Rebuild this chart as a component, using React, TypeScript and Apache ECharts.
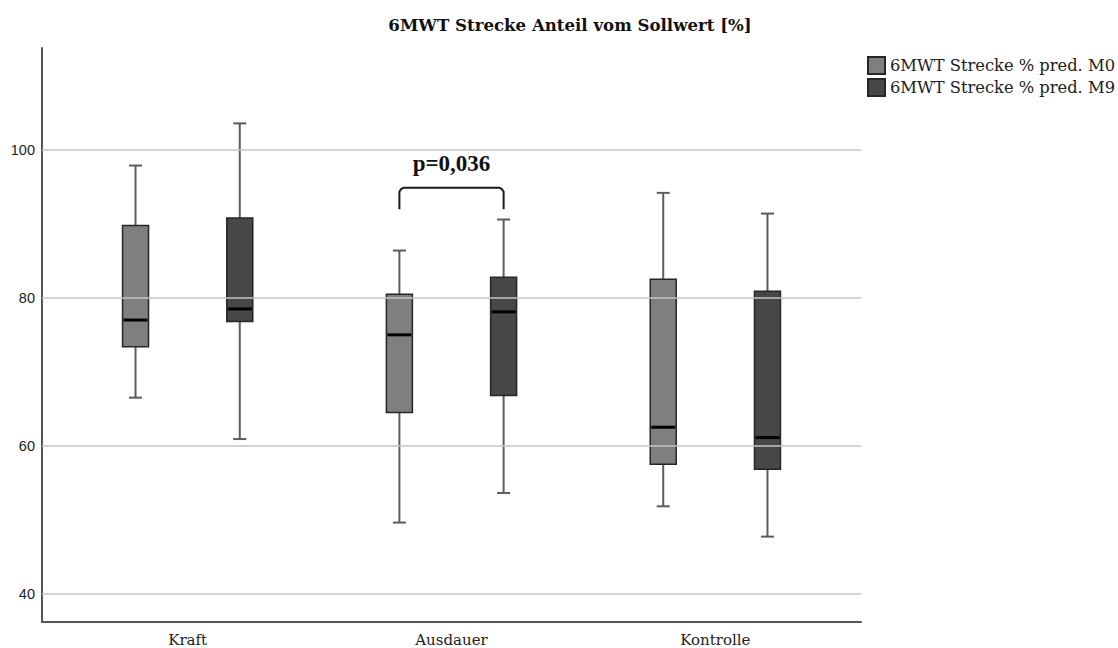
import React, { useEffect, useRef } from "react";
import * as echarts from "echarts";

const TITLE = "6MWT Strecke Anteil vom Sollwert [%]";
const groups = ["Kraft", "Ausdauer", "Kontrolle"];
const seriesNames = ["6MWT Strecke % pred. M0", "6MWT Strecke % pred. M9"];
// [min, q1, median, q3, max] per group
const m0Values = [
  [66.5, 73.4, 77.0, 89.8, 97.9],
  [49.6, 64.5, 75.0, 80.5, 86.4],
  [51.8, 57.5, 62.5, 82.5, 94.2],
];
const m9Values = [
  [60.9, 76.8, 78.5, 90.8, 103.6],
  [53.6, 66.8, 78.1, 82.8, 90.6],
  [47.7, 56.8, 61.1, 80.9, 91.4],
];
const yTicks = [40, 60, 80, 100];
const pLabel = "p=0,036";
// bracket: group index, top value, end value
const bracket = { group: 2, top: 94.9, end: 92.0 };

const OFFSET = 0.1975;
const BOX_HALF = 13;
const CAP_HALF = 6.5;

function boxRenderer(fill: string) {
  return (params: any, api: any) => {
    const x = api.value(0);
    const lo = api.coord([x, api.value(1)]);
    const q1 = api.coord([x, api.value(2)]);
    const med = api.coord([x, api.value(3)]);
    const q3 = api.coord([x, api.value(4)]);
    const hi = api.coord([x, api.value(5)]);
    const cx = lo[0];
    const wStyle = { stroke: "#5c5c5c", lineWidth: 2 };
    return {
      type: "group",
      children: [
        { type: "line", shape: { x1: cx, y1: hi[1], x2: cx, y2: q3[1] }, style: wStyle },
        { type: "line", shape: { x1: cx, y1: q1[1], x2: cx, y2: lo[1] }, style: wStyle },
        { type: "line", shape: { x1: cx - CAP_HALF, y1: hi[1], x2: cx + CAP_HALF, y2: hi[1] }, style: wStyle },
        { type: "line", shape: { x1: cx - CAP_HALF, y1: lo[1], x2: cx + CAP_HALF, y2: lo[1] }, style: wStyle },
        {
          type: "rect",
          shape: { x: cx - BOX_HALF, y: q3[1], width: BOX_HALF * 2, height: q1[1] - q3[1] },
          style: { fill, stroke: "#262626", lineWidth: 1.5 },
        },
        {
          type: "line",
          shape: { x1: cx - BOX_HALF + 1, y1: med[1], x2: cx + BOX_HALF - 1, y2: med[1] },
          style: { stroke: "#000", lineWidth: 3 },
        },
      ],
    };
  };
}

export default function App() {
  const ref = useRef<HTMLDivElement>(null);
  useEffect(() => {
    if (!ref.current) return;
    const chart = echarts.init(ref.current, null, { renderer: "svg" });
    const colors = ["#7f7f7f", "#474747"];
    const mk = (vals: number[][], off: number) =>
      vals.map((v, i) => [i + 1 + off, ...v]);
    chart.setOption({
      animation: false,
      backgroundColor: "#fff",
      graphic: [
        {
          type: "text",
          x: 570,
          y: 25,
          style: {
            text: TITLE,
            fill: "#111",
            font: "bold 16.6px 'DejaVu Serif'",
            textAlign: "center",
            textVerticalAlign: "middle",
          },
        },
      ],
      legend: {
        data: seriesNames,
        orient: "vertical",
        left: 862,
        top: 51,
        itemWidth: 17,
        itemHeight: 17,
        itemGap: 3,
        itemTextGap: 5,
        icon: "rect",
        selectedMode: false,
        textStyle: { fontFamily: "DejaVu Serif", fontSize: 16.3, color: "#222" },
      },
      grid: { left: 42, right: 257, top: 48, bottom: 26 },
      xAxis: {
        type: "value",
        min: 0.448,
        max: 3.552,
        splitLine: { show: false },
        axisTick: { show: false },
        axisLine: { show: true, onZero: false, lineStyle: { color: "#555", width: 2 } },
        axisLabel: {
          customValues: [1, 2, 3],
          formatter: (v: number) => groups[Math.round(v) - 1] ?? "",
          fontFamily: "DejaVu Serif",
          fontSize: 15,
          color: "#222",
          margin: 10,
        },
      },
      yAxis: {
        type: "value",
        min: 36.15,
        max: 113.8,
        splitLine: { show: false },
        axisTick: { show: false },
        axisLine: { show: true, lineStyle: { color: "#555", width: 2 } },
        axisLabel: {
          customValues: yTicks,
          fontFamily: "Liberation Sans",
          fontSize: 14.5,
          color: "#222",
          margin: 7,
        },
      },
      series: [
        {
          type: "line",
          name: "grid",
          data: [],
          z: 1,
          silent: true,
          markLine: {
            symbol: "none",
            silent: true,
            label: { show: false },
            lineStyle: { color: "#c4c4c4", width: 1.5, type: "solid" },
            data: yTicks.map((v) => ({ yAxis: v })),
          },
        },
        {
          type: "custom",
          name: seriesNames[0],
          z: 3,
          itemStyle: { color: colors[0], borderColor: "#262626", borderWidth: 1.5 },
          renderItem: boxRenderer(colors[0]),
          encode: { x: 0, y: [1, 2, 3, 4, 5] },
          data: mk(m0Values, -OFFSET),
        },
        {
          type: "custom",
          name: seriesNames[1],
          z: 3,
          itemStyle: { color: colors[1], borderColor: "#262626", borderWidth: 1.5 },
          renderItem: boxRenderer(colors[1]),
          encode: { x: 0, y: [1, 2, 3, 4, 5] },
          data: mk(m9Values, OFFSET),
        },
        {
          type: "custom",
          name: "bracket",
          z: 4,
          silent: true,
          encode: { x: [0, 1], y: [2, 3] },
          data: [[bracket.group - OFFSET, bracket.group + OFFSET, bracket.top, bracket.end]],
          renderItem: (params: any, api: any) => {
            const a = api.coord([api.value(0), api.value(2)]);
            const b = api.coord([api.value(1), api.value(3)]);
            const r = 4;
            return {
              type: "group",
              children: [
                {
                  type: "polyline",
                  shape: {
                    points: [
                      [a[0], b[1]],
                      [a[0], a[1] + r],
                      [a[0] + r * 0.4, a[1] + r * 0.4],
                      [a[0] + r, a[1]],
                      [b[0] - r, a[1]],
                      [b[0] - r * 0.4, a[1] + r * 0.4],
                      [b[0], a[1] + r],
                      [b[0], b[1]],
                    ],
                  },
                  style: { stroke: "#1a1a1a", lineWidth: 2, fill: "none" },
                },
                {
                  type: "text",
                  x: (a[0] + b[0]) / 2,
                  y: a[1] - 24,
                  style: {
                    text: pLabel,
                    fill: "#111",
                    font: "bold 23px 'Liberation Serif'",
                    textAlign: "center",
                    textVerticalAlign: "middle",
                  },
                },
              ],
            };
          },
        },
      ],
    });
    return () => chart.dispose();
  }, []);
  return (
    <div
      ref={ref}
      style={{ position: "absolute", left: 0, top: 0, width: 1118, height: 648 }}
    />
  );
}
